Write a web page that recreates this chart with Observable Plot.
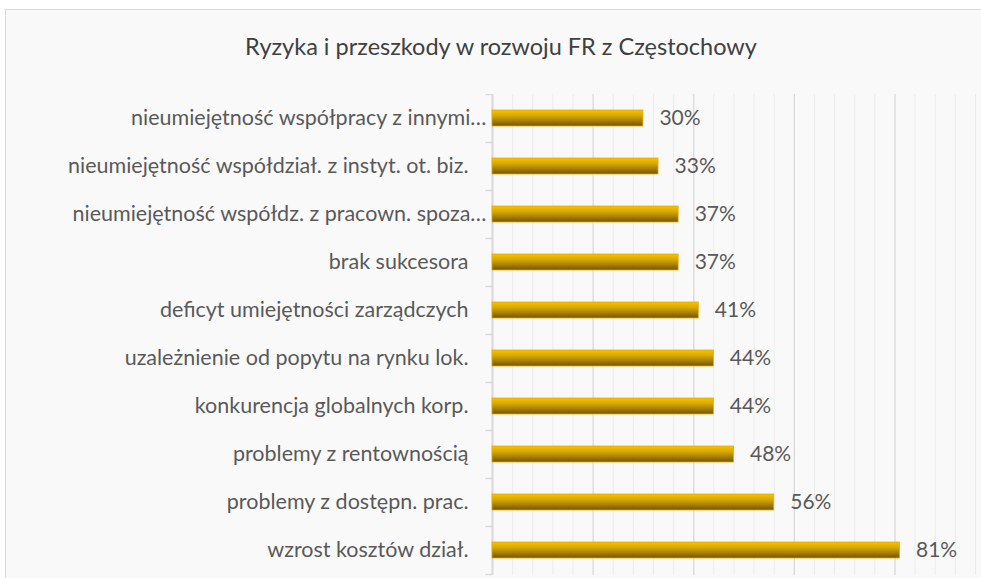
<!DOCTYPE html>
<html><head><meta charset="utf-8">
<script src="https://cdn.jsdelivr.net/npm/d3@7"></script>
<script src="https://cdn.jsdelivr.net/npm/@observablehq/plot@0.6"></script>
<style>
body{margin:0;background:#fff;width:981px;height:578px;overflow:hidden;position:relative;font-family:Lato,sans-serif}
#frame{position:absolute;left:5px;top:9px;width:1200px;height:800px;border:1px solid #d9d9d9;background:#f9f9f9}
#title{position:absolute;left:0;top:32px;width:1002px;text-align:center;font-size:23.5px;line-height:28px;color:#404040}
#chart{position:absolute;left:0;top:94px}
</style></head>
<body>
<div id="frame"></div>
<div id="title">Ryzyka i przeszkody w rozwoju FR z Częstochowy</div>
<div id="chart"></div>
<script>
const categories = [
  "nieumiejętność współpracy z innymi…",
  "nieumiejętność współdział. z instyt. ot. biz.",
  "nieumiejętność współdz. z pracown. spoza…",
  "brak sukcesora",
  "deficyt umiejętności zarządczych",
  "uzależnienie od popytu na rynku lok.",
  "konkurencja globalnych korp.",
  "problemy z rentownością",
  "problemy z dostępn. prac.",
  "wzrost kosztów dział."
];
const values = [30, 33, 37, 37, 41, 44, 44, 48, 56, 81];
const valueLabels = ["30%", "33%", "37%", "37%", "41%", "44%", "44%", "48%", "56%", "81%"];
const majorTicks = [0, 20, 40, 60, 80];
const minorTicks = d3.range(4, 97, 4).filter(v => v % 20 !== 0);

const data = categories.map((c, i) => ({cat: c, value: values[i], label: valueLabels[i]}));

const chart = Plot.plot({
  width: 981,
  height: 484,
  marginTop: 0,
  marginBottom: 3,
  marginLeft: 492,
  marginRight: 0,
  style: {background: "transparent", fontFamily: "Lato, sans-serif"},
  x: {domain: [0, 97.2], axis: null},
  y: {domain: categories, paddingInner: 0.66, paddingOuter: 0.33, axis: null},
  marks: [
    Plot.ruleX(minorTicks, {stroke: "#ececec", strokeWidth: 1}),
    Plot.ruleX(majorTicks.slice(1), {stroke: "#d9d9d9", strokeWidth: 1.3}),
    Plot.ruleX([0], {stroke: "#d9d9d9", strokeWidth: 2}),
    Plot.ruleY(categories, {y: d => d, x1: -1.3, x2: 0, dy: 24, stroke: "#d9d9d9", strokeWidth: 1.5}),
    Plot.ruleY(categories.slice(0, 1), {y: d => d, x1: -1.3, x2: 0, dy: -24, stroke: "#d9d9d9", strokeWidth: 1.5}),
    Plot.barX(data, {y: "cat", x: "value", fill: "url(#goldGrad)", stroke: "#e3ad00", strokeWidth: 0.8}),
    Plot.text(data, {y: "cat", x: "value", text: "label", textAnchor: "start", dx: 16, fontSize: 21, fill: "#595959"}),
    Plot.text(data.filter(d => d.cat.endsWith("…")), {y: "cat", text: "cat", frameAnchor: "left", textAnchor: "end", dx: -6, fontSize: 21.5, fill: "#595959"}),
    Plot.text(data.filter(d => !d.cat.endsWith("…")), {y: "cat", text: "cat", frameAnchor: "left", textAnchor: "end", dx: -24, fontSize: 21.5, fill: "#595959"})
  ]
});

const defs = d3.select(chart).insert("defs", ":first-child");
const g = defs.append("linearGradient").attr("id", "goldGrad").attr("x1", 0).attr("y1", 0).attr("x2", 0).attr("y2", 1);
g.append("stop").attr("offset", "0%").attr("stop-color", "#f6c200");
g.append("stop").attr("offset", "35%").attr("stop-color", "#d9a800");
g.append("stop").attr("offset", "100%").attr("stop-color", "#735600");

document.getElementById("chart").appendChild(chart);
</script>
</body></html>
